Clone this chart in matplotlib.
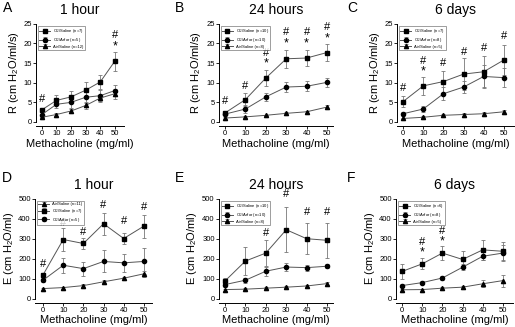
import matplotlib.pyplot as plt
import numpy as np

plt.rcParams['font.family'] = ['Liberation Sans', 'DejaVu Sans']
plt.rcParams['mathtext.fontset'] = 'custom'
plt.rcParams['mathtext.rm'] = 'Liberation Sans'

dose = [0, 10, 20, 30, 40, 50]

# A - R, 1 hour
a_sal = [3.1, 5.5, 6.4, 8.1, 10.2, 15.5]
a_sal_err = [0.5, 1.3, 1.4, 2.1, 1.7, 2.4]
a_arf = [1.9, 4.5, 5.0, 6.3, 6.7, 8.0]
a_arf_err = [0.6, 1.0, 1.4, 1.5, 1.5, 1.4]
a_air = [1.2, 1.9, 2.8, 4.2, 6.1, 7.2]
a_air_err = [0.3, 0.3, 0.5, 0.8, 0.8, 1.3]

# B - R, 24 hours
b_sal = [2.3, 5.7, 11.2, 16.1, 16.3, 17.7]
b_sal_err = [0.4, 1.7, 2.1, 2.3, 2.1, 2.2]
b_arf = [2.0, 3.3, 6.4, 8.9, 9.1, 10.1]
b_arf_err = [0.6, 1.0, 1.0, 1.2, 1.3, 1.2]
b_air = [1.0, 1.3, 1.7, 2.2, 2.6, 3.8]
b_air_err = [0.2, 0.2, 0.2, 0.3, 0.3, 0.4]

# C - R, 6 days
c_sal = [5.2, 9.2, 10.3, 12.2, 12.8, 15.8]
c_sal_err = [1.4, 2.2, 2.8, 4.0, 4.1, 3.8]
c_arf = [2.1, 3.3, 7.2, 8.9, 11.6, 11.3]
c_arf_err = [0.5, 0.7, 1.7, 1.5, 2.8, 2.4]
c_air = [0.9, 1.2, 1.7, 1.9, 2.1, 2.6]
c_air_err = [0.2, 0.2, 0.3, 0.3, 0.4, 0.5]

# D - E, 1 hour
d_air = [50, 55, 65, 84, 102, 124]
d_air_err = [5, 5, 6, 8, 8, 15]
d_sal = [119, 296, 276, 375, 301, 363]
d_sal_err = [10, 60, 30, 55, 30, 58]
d_arf = [92, 167, 150, 186, 179, 186]
d_arf_err = [10, 38, 35, 55, 45, 65]

# E - E, 24 hours
e_sal = [88, 188, 228, 345, 300, 292]
e_sal_err = [15, 70, 67, 113, 78, 88]
e_arf = [70, 92, 137, 158, 155, 162]
e_arf_err = [10, 12, 22, 20, 15, 10]
e_air = [45, 47, 52, 57, 63, 75]
e_air_err = [5, 5, 5, 6, 6, 8]

# F - E, 6 days
f_sal = [136, 174, 228, 196, 244, 237]
f_sal_err = [38, 28, 34, 40, 50, 45]
f_arf = [65, 80, 103, 157, 212, 228]
f_arf_err = [8, 8, 10, 15, 20, 40]
f_air = [44, 45, 52, 57, 74, 90]
f_air_err = [5, 5, 8, 8, 18, 30]

# significance marks: (dose, symbol, y)
a_marks = [(0, '#', 5.8), (50, '*', 19.3), (50, '#', 22.2)]
b_marks = [(0, '#', 5.3), (10, '#', 9.2), (20, '*', 14.8), (20, '#', 17.5),
           (30, '*', 20.1), (30, '#', 23.0), (40, '*', 20.1), (40, '#', 23.0),
           (50, '*', 21.4), (50, '#', 24.2)]
c_marks = [(0, '#', 8.6), (10, '*', 12.9), (10, '#', 15.6), (20, '#', 15.0),
           (30, '#', 17.9), (40, '#', 18.9), (50, '#', 22.0)]
d_marks = [(0, '#', 174), (10, '#', 380), (20, '#', 333), (30, '#', 468),
           (40, '#', 391), (50, '#', 460)]
e_marks = [(20, '#', 328), (30, '#', 522), (40, '#', 433), (50, '#', 433)]
f_marks = [(10, '*', 232), (10, '#', 285), (20, '*', 287), (20, '#', 338)]

CL = 'Cl$_2$'

panels = [
    dict(rect=[0.070, 0.627, 0.170, 0.300], xlim=(-4, 56), letter=('A', 3, 8), title='1 hour', kind='R',
         series=[(a_sal, a_sal_err, 's', CL + '/Saline (n=7)'),
                 (a_arf, a_arf_err, 'o', CL + '/Arfor (n=5)'),
                 (a_air, a_air_err, '^', 'Air/Saline (n=12)')], marks=a_marks),
    dict(rect=[0.425, 0.627, 0.222, 0.300], xlim=(-3, 53), letter=('B', 175, 8), title='24 hours', kind='R',
         series=[(b_sal, b_sal_err, 's', CL + '/Saline (n=10)'),
                 (b_arf, b_arf_err, 'o', CL + '/Arfor (n=10)'),
                 (b_air, b_air_err, '^', 'Air/Saline (n=8)')], marks=b_marks),
    dict(rect=[0.771, 0.627, 0.227, 0.300], xlim=(-3, 55), letter=('C', 347, 8), title='6 days', kind='R',
         series=[(c_sal, c_sal_err, 's', CL + '/Saline (n=7)'),
                 (c_arf, c_arf_err, 'o', CL + '/Arfor (n=8)'),
                 (c_air, c_air_err, '^', 'Air/Saline (n=5)')], marks=c_marks),
    dict(rect=[0.068, 0.087, 0.227, 0.305], xlim=(-4, 54), letter=('D', 2, 178), title='1 hour', kind='E',
         series=[(d_air, d_air_err, '^', 'Air/Saline (n=11)'),
                 (d_sal, d_sal_err, 's', CL + '/Saline (n=7)'),
                 (d_arf, d_arf_err, 'o', CL + '/Arfor (n=5)')], marks=d_marks),
    dict(rect=[0.425, 0.087, 0.222, 0.305], xlim=(-3, 53), letter=('E', 175, 178), title='24 hours', kind='E',
         series=[(e_sal, e_sal_err, 's', CL + '/Saline (n=10)'),
                 (e_arf, e_arf_err, 'o', CL + '/Arfor (n=10)'),
                 (e_air, e_air_err, '^', 'Air/Saline (n=8)')], marks=e_marks),
    dict(rect=[0.769, 0.087, 0.227, 0.305], xlim=(-3, 55), letter=('F', 347, 178), title='6 days', kind='E',
         series=[(f_sal, f_sal_err, 's', CL + '/Saline (n=6)'),
                 (f_arf, f_arf_err, 'o', CL + '/Arfor (n=8)'),
                 (f_air, f_air_err, '^', 'Air/Saline (n=5)')], marks=f_marks),
]

W, H = 515, 327
fig = plt.figure(figsize=(W / 100, H / 100), dpi=100)

for p in panels:
    ax = fig.add_axes(p['rect'])
    for y, err, m, lab in p['series']:
        ax.errorbar(dose, y, yerr=err, marker=m, color='#555555', mfc='black', mec='black',
                    ms=3, lw=0.7, elinewidth=0.6, ecolor='#777777', capsize=1.5, capthick=0.6,
                    label=lab, clip_on=False)
    for xd, sym, yy in p['marks']:
        ax.text(xd, yy, sym, ha='center', va='center', fontsize=8 if sym == '#' else 9,
                clip_on=False)
    ax.set_xlim(*p['xlim'])
    ax.set_xticks(dose)
    if p['kind'] == 'R':
        ax.set_ylim(0, 25)
        ax.set_yticks([0, 5, 10, 15, 20, 25])
        ax.set_ylabel('R (cm H$_2$O/ml/s)', fontsize=8, labelpad=2)
    else:
        ax.set_ylim(0, 500)
        ax.set_yticks([0, 100, 200, 300, 400, 500])
        ax.set_ylabel('E (cm H$_2$O/ml)', fontsize=8, labelpad=2)
    ax.set_xlabel('Methacholine (mg/ml)', fontsize=8, labelpad=1)
    ax.spines['top'].set_visible(False)
    ax.spines['right'].set_visible(False)
    ax.spines['bottom'].set_position(('outward', 3))
    ax.spines['left'].set_linewidth(0.7)
    ax.spines['bottom'].set_linewidth(0.7)
    ax.tick_params(labelsize=5.5, width=0.6, length=2, pad=1)
    ax.set_title(p['title'], fontsize=10, pad=7)
    lt, lx, ly = p['letter']
    fig.text(lx / W, 1 - ly / H, lt, fontsize=10, va='center', ha='left')
    leg = ax.legend(loc='upper left', fontsize=3, frameon=True, fancybox=False,
                    edgecolor='#555555', handlelength=2.5, borderpad=0.3,
                    labelspacing=0.2, bbox_to_anchor=(0.0, 1.0))
    leg.get_frame().set_linewidth(0.5)
    for h in leg.legend_handles:
        try:
            h.set_markersize(2)
        except AttributeError:
            pass

fig.savefig('out.png', dpi=100)
